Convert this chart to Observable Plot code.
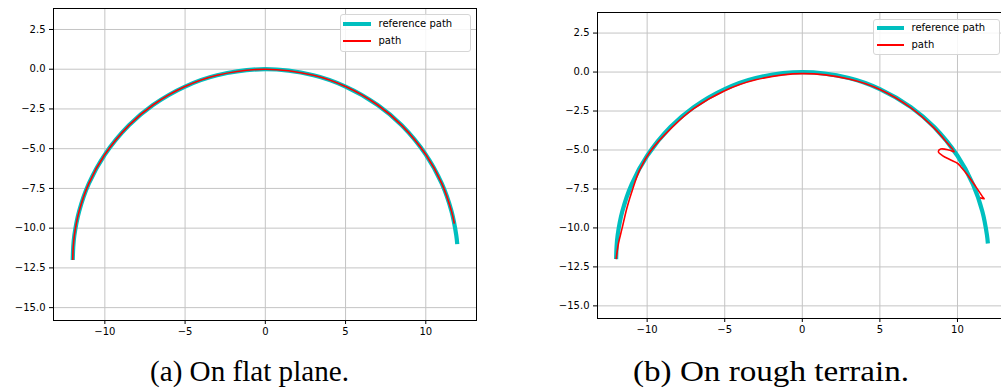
<!DOCTYPE html>
<html>
<head>
<meta charset="utf-8">
<script src="https://cdn.jsdelivr.net/npm/d3@7"></script>
<script src="https://cdn.jsdelivr.net/npm/@observablehq/plot@0.6"></script>
<style>
  html, body { margin: 0; padding: 0; background: #fff; }
  #wrap { position: relative; width: 1001px; height: 392px; overflow: hidden; background: #fff; }
  .panel { position: absolute; top: 0; }
  .panel svg { max-width: none !important; }
  .legend { position: absolute; background: rgba(255,255,255,0.85); border: 1px solid #d6d6d6; border-radius: 3px;
            font-family: "DejaVu Sans", sans-serif; font-size: 10px; color: #000; box-sizing: border-box; }
  .legend .sw { position: absolute; }
  .legend .lbl { position: absolute; white-space: nowrap; }
  #caps { position: absolute; left: 0; top: 0; }
</style>
</head>
<body>
<div id="wrap">
  <div id="panelA" class="panel" style="left:0px; width:490px;"></div>
  <div id="panelB" class="panel" style="left:540px; width:480px;"></div>
  <div id="legendA" class="legend" style="left:340px; top:14px; width:131px; height:38px;"></div>
  <div id="legendB" class="legend" style="left:873px; top:19px; width:127px; height:36px;"></div>
  <svg id="caps" width="1001" height="392"></svg>
</div>
<script>
// ---- data ----
// reference path (same in both panels)
const refX = [-12.0, -11.97, -11.9, -11.6, -11.0, -10.0, -8.5, -7.0, -5.0, -3.0, 0.0, 3.0, 5.0, 7.0, 8.5, 10.0, 11.0, 11.6, 11.9, 11.96];
const refY = [-12.0, -11.2, -10.45, -8.93, -7.2, -5.37, -3.53, -2.25, -1.09, -0.38, 0.0, -0.38, -1.09, -2.25, -3.53, -5.37, -7.2, -8.93, -10.45, -11.0];
// executed path, flat plane
const flatX = [-12.0, -11.97, -11.9, -11.6, -11.0, -10.0, -8.5, -7.0, -5.0, -3.0, 0.0, 3.0, 5.0, 7.0, 8.5, 10.0, 11.0, 11.6, 11.78];
const flatY = [-12.0, -11.2, -10.45, -8.93, -7.2, -5.37, -3.53, -2.25, -1.09, -0.38, 0.0, -0.38, -1.09, -2.25, -3.53, -5.37, -7.2, -8.93, -9.72];
// executed path, rough terrain
const roughX = [-12.0, -11.85, -11.61, -11.3, -10.93, -10.48, -9.8, -8.4, -7.0, -5.0, -3.0, 0.0, 3.0, 5.0, 7.0, 8.5, 9.3, 9.78, 9.45, 8.92, 8.77, 9.03, 9.57, 10.0, 10.21, 10.65, 11.18, 11.61, 11.72, 11.45];
const roughY = [-12.0, -11.0, -10.0, -8.7, -7.5, -6.28, -5.1, -3.55, -2.35, -1.2, -0.5, -0.1, -0.45, -1.12, -2.3, -3.6, -4.5, -5.11, -5.0, -4.94, -5.11, -5.36, -5.64, -5.85, -6.07, -6.6, -7.35, -7.99, -8.13, -8.06];
// axes
const xTicks = [-10, -5, 0, 5, 10];
const yTicks = [2.5, 0.0, -2.5, -5.0, -7.5, -10.0, -12.5, -15.0];
const xDomain = [-13.2, 13.16];
const yDomain = [-15.81, 3.82];
const seriesNames = ["reference path", "path"];
const captions = ["(a) On flat plane.", "(b) On rough terrain."];

const CYAN = "#00bfbf", RED = "#ff0000";
const toPts = (xs, ys) => xs.map((x, i) => ({x, y: ys[i]}));
const minus = s => s.replace(/-/g, "\u2212");

function panel({width, height, mt, mb, ml, mr, pathX, pathY}) {
  return Plot.plot({
    width, height,
    marginTop: mt, marginBottom: mb, marginLeft: ml, marginRight: mr,
    x: {domain: xDomain},
    y: {domain: yDomain},
    style: {fontFamily: "DejaVu Sans, sans-serif", fontSize: "10px", color: "#000", background: "transparent", overflow: "visible", maxWidth: "none"},
    marks: [
      Plot.gridX(xTicks, {stroke: "#c4c4c4", strokeOpacity: 1, strokeWidth: 1}),
      Plot.gridY(yTicks, {stroke: "#c4c4c4", strokeOpacity: 1, strokeWidth: 1}),
      Plot.line(toPts(refX, refY), {x: "x", y: "y", stroke: CYAN, strokeWidth: 4.2, curve: "catmull-rom", strokeLinecap: "butt"}),
      Plot.line(toPts(pathX, pathY), {x: "x", y: "y", stroke: RED, strokeWidth: 1.6, curve: "catmull-rom", strokeLinecap: "butt"}),
      Plot.frame({stroke: "#000", strokeWidth: 1}),
      Plot.axisX(xTicks, {tickSize: 4, tickPadding: 3, tickFormat: d => minus(String(d)), label: null, stroke: "#000"}),
      Plot.axisY(yTicks, {tickSize: 4, tickPadding: 4, tickFormat: d => minus(d.toFixed(1)), label: null, stroke: "#000"})
    ]
  });
}

document.getElementById("panelA").appendChild(panel({width: 490, height: 345, mt: 8, mb: 25, ml: 53, mr: 14, pathX: flatX, pathY: flatY}));
document.getElementById("panelB").appendChild(panel({width: 480, height: 345, mt: 12, mb: 27, ml: 57, mr: 14, pathX: roughX, pathY: roughY}));

function legend(id, rowsY, swLeft, swW, lblLeft) {
  const el = document.getElementById(id);
  const specs = [{c: CYAN, w: 4.2}, {c: RED, w: 1.6}];
  seriesNames.forEach((name, i) => {
    const sw = document.createElement("div");
    sw.className = "sw";
    sw.style.left = swLeft + "px"; sw.style.width = swW + "px";
    sw.style.top = (rowsY[i] - specs[i].w / 2) + "px"; sw.style.height = specs[i].w + "px";
    sw.style.background = specs[i].c;
    el.appendChild(sw);
    const lb = document.createElement("div");
    lb.className = "lbl";
    lb.style.left = lblLeft + "px"; lb.style.top = (rowsY[i] - 7) + "px";
    lb.style.lineHeight = "14px";
    lb.textContent = name;
    el.appendChild(lb);
  });
}
legend("legendA", [9.3, 26], 2, 28, 37.5);
legend("legendB", [8.3, 25], 3, 27, 37.5);

// captions below the panels
const caps = d3.select("#caps");
[[captions[0], 150, 199], [captions[1], 633, 276]].forEach(([t, x, len]) => {
  caps.append("text")
    .attr("x", x).attr("y", 381)
    .attr("textLength", len).attr("lengthAdjust", "spacingAndGlyphs")
    .attr("font-family", "Liberation Serif, Times New Roman, serif")
    .attr("font-size", 30)
    .attr("fill", "#000")
    .text(t);
});
</script>
</body>
</html>
